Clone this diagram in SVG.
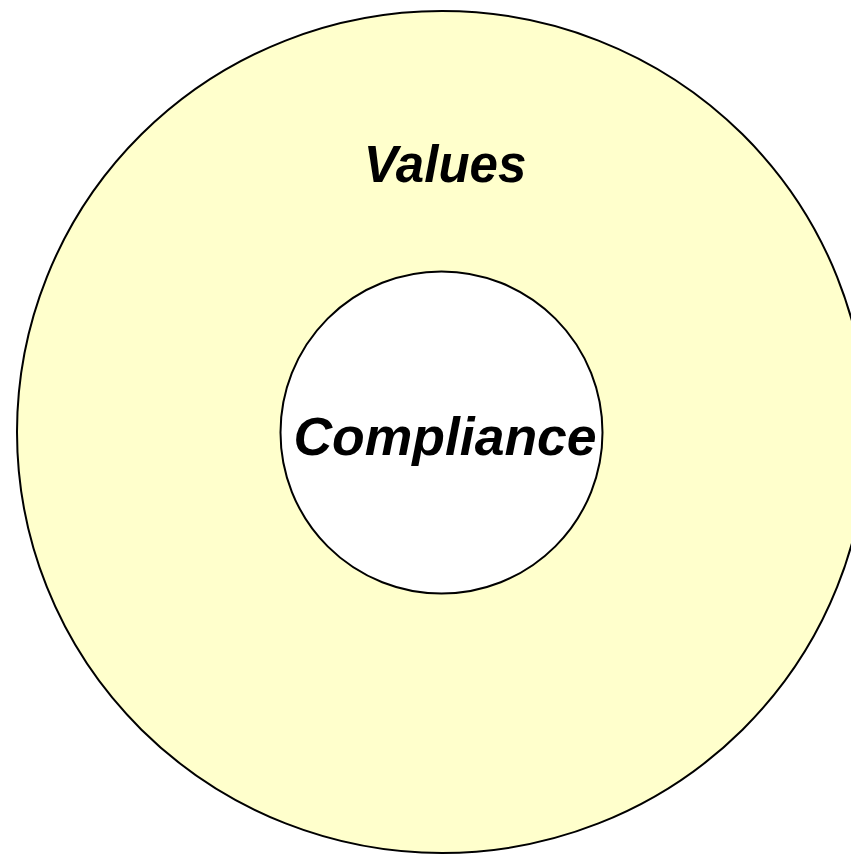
<svg xmlns="http://www.w3.org/2000/svg" width="851" height="856" viewBox="0 0 851 856">
<style>
.lbl{font-family:"Liberation Sans",Arial,sans-serif;font-weight:bold;font-style:italic;fill:#000;text-anchor:middle}
.ring{stroke:#000;stroke-width:2}
</style>
<rect width="851" height="856" fill="#fff"/>
<g id="values">
<ellipse class="ring" cx="442" cy="432" rx="425" ry="421" fill="#ffffcc"/>
<text class="lbl" x="445" y="182" font-size="51">Values</text>
</g>
<g id="compliance">
<circle class="ring" cx="441.5" cy="432.5" r="161" fill="#fff"/>
<text class="lbl" x="445" y="455" font-size="53.5">Compliance</text>
</g>
<g id="connectors"/>
</svg>
